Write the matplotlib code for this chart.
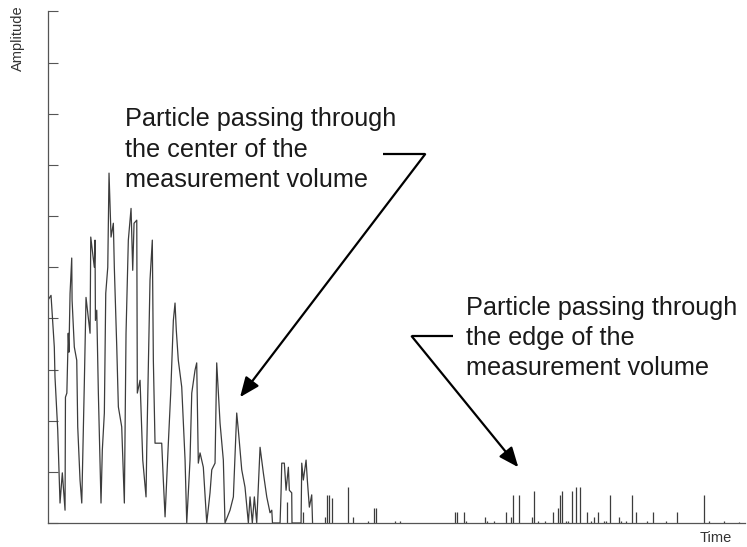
import numpy as np
import matplotlib.pyplot as plt

plt.rcParams['font.family'] = ['Liberation Sans', 'DejaVu Sans']

# signal while the particle crosses the centre of the volume (time, amplitude)
t_dense = [0.0, 0.43, 0.90, 1.00, 1.39, 1.72, 2.05, 2.44, 2.50, 2.70,
           2.90, 3.00, 3.16, 3.40, 3.45, 3.77, 4.12, 4.26, 4.59, 4.84,
           5.21, 5.45, 6.03, 6.13, 6.64, 6.74, 6.80, 6.99, 7.22, 7.60,
           7.79, 8.08, 8.28, 8.57, 8.75, 9.04, 9.37, 9.51, 9.86, 10.09,
           10.57, 10.95, 11.19, 11.52, 11.91, 12.15, 12.34, 12.73, 12.81, 13.20,
           13.59, 14.06, 14.16, 14.63, 14.96, 15.11, 15.35, 16.31, 16.54, 16.79,
           17.26, 17.60, 17.98, 18.22, 18.40, 18.69, 19.18, 19.66, 19.90, 20.37,
           20.62, 21.09, 21.33, 21.56, 21.81, 22.28, 22.77, 23.24, 23.49, 23.96,
           24.20, 24.68, 25.15, 25.39, 26.11, 26.59, 27.07, 27.30, 27.79, 28.26,
           28.74, 28.98, 29.31, 29.60, 29.94, 30.42, 30.89, 31.38, 31.85, 32.10,
           32.20, 33.29, 33.43, 33.53, 33.90, 34.15, 34.48, 34.62, 34.96, 35.00,
           36.30, 36.40, 36.63, 37.02, 37.20, 37.49, 37.83, 37.95]
a_dense = [4.36, 4.45, 3.44, 2.85, 1.82, 0.39, 0.98, 0.25, 2.46, 2.54,
           3.71, 3.34, 4.49, 5.18, 4.36, 3.44, 3.18, 1.88, 0.84, 0.39,
           2.75, 4.41, 3.71, 5.59, 5.00, 5.53, 3.96, 4.16, 2.54, 0.39,
           1.43, 2.15, 4.49, 5.00, 6.84, 5.59, 5.86, 5.00, 3.44, 2.27,
           1.88, 0.39, 3.71, 5.53, 6.15, 4.94, 5.86, 5.92, 2.54, 2.79,
           1.23, 0.51, 1.43, 4.75, 5.53, 3.18, 1.56, 1.56, 0.84, 0.12,
           1.56, 2.54, 3.96, 4.30, 3.77, 3.18, 2.66, 1.23, 0.00, 1.23,
           2.54, 2.99, 3.13, 1.17, 1.37, 1.09, 0.00, 0.59, 1.04, 1.17,
           3.13, 1.95, 1.23, 0.00, 0.25, 0.51, 2.15, 1.82, 1.04, 0.70,
           0.00, 0.51, 0.00, 0.51, 0.00, 1.48, 0.98, 0.51, 0.20, 0.25,
           0.00, 0.00, 0.59, 1.17, 1.17, 0.64, 1.09, 0.64, 0.59, 0.00,
           0.00, 1.17, 0.84, 1.23, 0.84, 0.31, 0.55, 0.00]

# isolated spikes, edge of the volume
spike_t = [34.25, 36.59, 39.74, 39.98, 40.36, 40.70, 43.08, 43.72, 45.91, 46.77,
           47.06, 49.83, 50.50, 58.44, 58.72, 59.68, 59.93, 62.65, 62.94, 63.95,
           65.71, 66.38, 66.67, 67.58, 69.44, 69.73, 70.30, 71.26, 72.45, 73.13,
           73.41, 73.70, 74.28, 74.56, 75.22, 75.80, 76.37, 77.33, 77.91, 78.29,
           78.95, 79.81, 80.10, 80.67, 81.92, 82.21, 82.88, 83.74, 84.40, 85.90,
           86.84, 88.67, 90.24, 94.16, 94.84, 96.99, 99.14]
spike_a = [0.41, 0.21, 0.12, 0.55, 0.55, 0.49, 0.70, 0.12, 0.04, 0.29,
           0.29, 0.04, 0.04, 0.21, 0.21, 0.21, 0.04, 0.12, 0.04, 0.04,
           0.21, 0.12, 0.55, 0.55, 0.12, 0.62, 0.04, 0.04, 0.21, 0.29,
           0.55, 0.62, 0.04, 0.04, 0.62, 0.70, 0.70, 0.21, 0.04, 0.12,
           0.21, 0.04, 0.04, 0.55, 0.12, 0.04, 0.04, 0.55, 0.21, 0.04,
           0.21, 0.04, 0.21, 0.55, 0.04, 0.04, 0.02]

fig = plt.figure(figsize=(7.47, 5.47), dpi=100)
ax = fig.add_axes([0.0643, 0.0439, 0.9331, 0.9351])

sig_col = '#3c3c3c'
ax.plot(t_dense, a_dense, color=sig_col, lw=0.9)
ax.vlines(spike_t, 0, spike_a, color=sig_col, lw=0.9)

ax.set_xlim(0, 100)
ax.set_ylim(0, 10)
ax.set_xticks([])
ax.set_yticks(np.arange(0, 11))
ax.set_yticklabels([])
ax.tick_params(axis='y', direction='in', length=7.5, width=0.8, color='#555555')
for s in ['top', 'right']:
    ax.spines[s].set_visible(False)
for s in ['left', 'bottom']:
    ax.spines[s].set_color('#555555')
    ax.spines[s].set_linewidth(0.9)

fig.text(18 / 747, 1 - 38 / 547, 'Amplitude', rotation=90, ha='center', va='center',
         fontsize=10.5, color='#333333')
fig.text(716 / 747, 1 - 538 / 547, 'Time', ha='center', va='center',
         fontsize=10.5, color='#333333')

txt_kw = dict(fontsize=18.2, color='#1a1a1a', ha='left', va='top', linespacing=1.33)
ax.text(11.05, 8.125, 'Particle passing through\nthe center of the\nmeasurement volume', **txt_kw)
ax.text(59.97, 4.44, 'Particle passing through\nthe edge of the\nmeasurement volume', **txt_kw)

arr = dict(arrowstyle='-|>,head_length=0.6,head_width=0.25', color='black', lw=1.6,
           mutation_scale=20, shrinkA=0, shrinkB=0)
ax.plot([48.06, 54.1], [7.21, 7.21], color='black', lw=1.6, solid_capstyle='butt')
ax.annotate('', xy=(27.55, 2.46), xytext=(54.1, 7.21), arrowprops=arr)
ax.plot([52.18, 58.15], [3.65, 3.65], color='black', lw=1.6, solid_capstyle='butt')
ax.annotate('', xy=(67.47, 1.09), xytext=(52.18, 3.65), arrowprops=arr)

fig.savefig('out.png', dpi=100)
